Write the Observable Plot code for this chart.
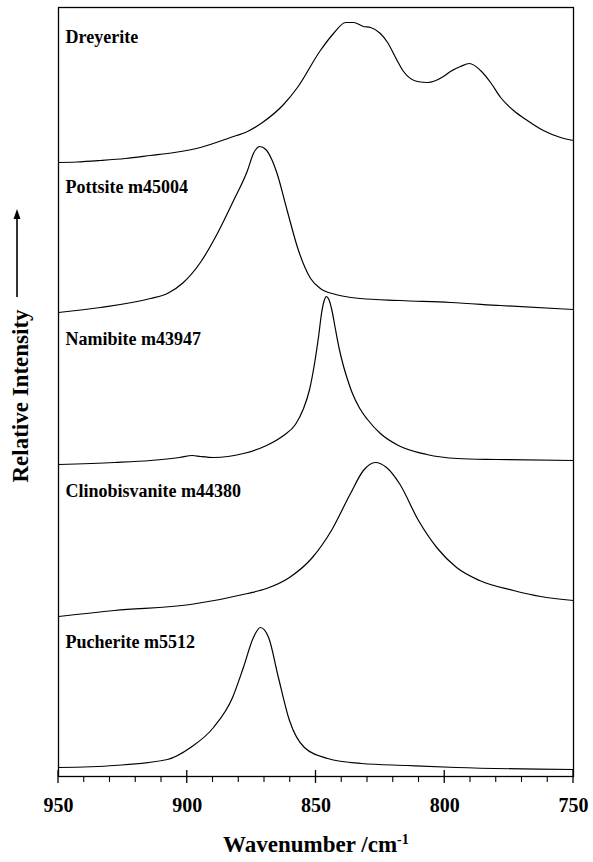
<!DOCTYPE html>
<html><head><meta charset="utf-8">
<script src="https://cdn.jsdelivr.net/npm/d3@7"></script>
<script src="https://cdn.jsdelivr.net/npm/@observablehq/plot@0.6"></script>
<style>body{margin:0;background:#fff}</style>
</head><body><div id="chart"></div>
<script>
const names = ["Dreyerite", "Pottsite m45004", "Namibite m43947", "Clinobisvanite m44380", "Pucherite m5512"];
const offsets = [614, 464, 312, 160, 9];

const dreyeriteWn = [950, 943, 933.7, 924, 914.3, 905, 894.9, 883.2, 876.6, 870.8, 862.6, 857.2, 848.3, 843.2, 838.5, 835.4, 831.6, 828.8, 825.0, 822.2, 819.1, 816.0, 810.6, 806.7, 800.5, 797.8, 793.9, 790.4, 786.1, 782.2, 778.3, 773.3, 767.9, 761.7, 755, 750];
const dreyeriteI  = [0, 0.5, 2, 4, 7, 10, 15, 25, 31, 40, 58, 75, 112, 129, 140, 140, 136, 135, 129, 120, 105, 91, 81, 80, 86, 91, 96, 99, 92, 80, 65, 52, 42, 32, 25, 22];

const pottsiteWn = [950, 933.7, 914.3, 907.7, 901.5, 894.9, 888.3, 882.0, 876.6, 874.3, 871.8, 869.5, 867.0, 865.0, 861.2, 856.8, 852.1, 848.3, 842.4, 832.7, 817.2, 797.8, 778.4, 750];
const pottsiteI  = [0, 5, 14, 19, 30, 50, 79, 112, 142, 159, 166, 163, 152, 138, 102, 62, 34, 24, 18, 14, 12, 10, 7, 3];

const namibiteWn = [950, 928.3, 914.3, 903, 898, 894.9, 889.8, 878.2, 869.2, 862.6, 858, 855, 852.5, 850.5, 849, 847.8, 846.8, 846, 845, 843.8, 842.5, 841, 839.5, 838, 836, 833, 830, 825, 818, 807, 795, 780, 750];
const namibiteI  = [0, 2, 4, 7, 9, 8, 7, 11, 19, 29, 40, 55, 75, 102, 128, 152, 164, 168, 165, 154, 136, 116, 100, 87, 72, 56, 45, 31, 19, 10, 6, 5, 4];

const clinoWn = [950, 928.3, 898.7, 876.6, 869.2, 860.3, 851.4, 844.0, 836.6, 831.6, 826.9, 822.6, 817.6, 810.2, 802.8, 795.4, 786.5, 773.3, 762.8, 750];
const clinoI  = [0, 6, 12, 23, 28, 39, 59, 86, 123, 146, 154, 149, 133, 96, 68, 49, 36, 26, 20, 16];

const pucheriteWn = [950, 928.3, 907.7, 898.7, 889.8, 882.4, 878.2, 874.3, 871.6, 868.4, 864.6, 860.3, 854.5, 845.5, 832.3, 814.5, 795.4, 750];
const pucheriteI  = [0, 2, 8, 20, 40, 70, 100, 130, 140, 130, 90, 47, 20, 9, 4, 2, 0, -2];

const majorTicks = [950, 900, 850, 800, 750];
const minorTicks = [940, 930, 920, 910, 890, 880, 870, 860, 840, 830, 820, 810, 790, 780, 770, 760];
const xLabel = "Wavenumber /cm-1";
const yLabel = "Relative Intensity";

const series = [[dreyeriteWn, dreyeriteI], [pottsiteWn, pottsiteI], [namibiteWn, namibiteI], [clinoWn, clinoI], [pucheriteWn, pucheriteI]];
const points = series.flatMap(([w, v], i) => w.map((x, j) => ({name: names[i], wn: x, y: offsets[i] + v[j]})));
const labels = names.map((n, i) => ({name: n, y: offsets[i] + 125}));

const font = "'Liberation Serif', 'Times New Roman', serif";
const svg = Plot.plot({
  width: 593, height: 862,
  marginLeft: 58, marginRight: 20, marginTop: 7, marginBottom: 86,
  style: {fontFamily: font, color: "black", background: "white"},
  x: {domain: [950, 750]},
  y: {domain: [0, 769], axis: null},
  marks: [
    Plot.line(points, {x: "wn", y: "y", z: "name", stroke: "black", strokeWidth: 1.2, curve: "monotone-x"}),
    Plot.text(labels, {y: "y", text: "name", frameAnchor: "left", dx: 7, textAnchor: "start", fontSize: 18, fontWeight: "bold", fill: "black"}),
    Plot.frame({stroke: "black", strokeWidth: 1.3}),
    Plot.axisX({ticks: majorTicks, tickSize: 0, tickPadding: 21, tickFormat: d => String(d), fontSize: 20, fontWeight: "bold", label: null}),
    Plot.text([xLabel], {text: d => d, frameAnchor: "bottom", dy: 75, fontSize: 23, fontWeight: "bold", fill: "black"}),
    Plot.text([yLabel], {text: d => d, frameAnchor: "left", textAnchor: "middle", dx: -38, dy: 4, rotate: -90, fontSize: 23, fontWeight: "bold", fill: "black"})
  ]
});
document.getElementById("chart").appendChild(svg);

// tick marks drawn with Plot's own x and y scales
const xs = svg.scale("x"), ys = svg.scale("y");
const y0 = ys.apply(0);
const tg = d3.select(svg).append("g").attr("stroke", "black").attr("fill", "none");
majorTicks.forEach(v => tg.append("line").attr("x1", xs.apply(v)).attr("x2", xs.apply(v)).attr("y1", y0 - 6).attr("y2", y0 + 7).attr("stroke-width", 1.3));
minorTicks.forEach(v => tg.append("line").attr("x1", xs.apply(v)).attr("x2", xs.apply(v)).attr("y1", y0).attr("y2", y0 + 6).attr("stroke-width", 1.1));

// superscript for cm-1
d3.select(svg).selectAll("text").filter(function() { return this.textContent === xLabel; }).each(function() {
  const t = d3.select(this);
  t.text(null);
  t.append("tspan").text("Wavenumber /cm");
  t.append("tspan").attr("dy", "-0.55em").attr("font-size", "0.62em").text("-1");
});

// arrow beside y label
const g = d3.select(svg).append("g").attr("stroke", "black").attr("fill", "black");
g.append("line").attr("x1", 17).attr("x2", 17).attr("y1", 297).attr("y2", 216).attr("stroke-width", 1.6);
g.append("path").attr("d", "M17,209 L13.5,219 L20.5,219 Z").attr("stroke", "none");
</script>
</body></html>
